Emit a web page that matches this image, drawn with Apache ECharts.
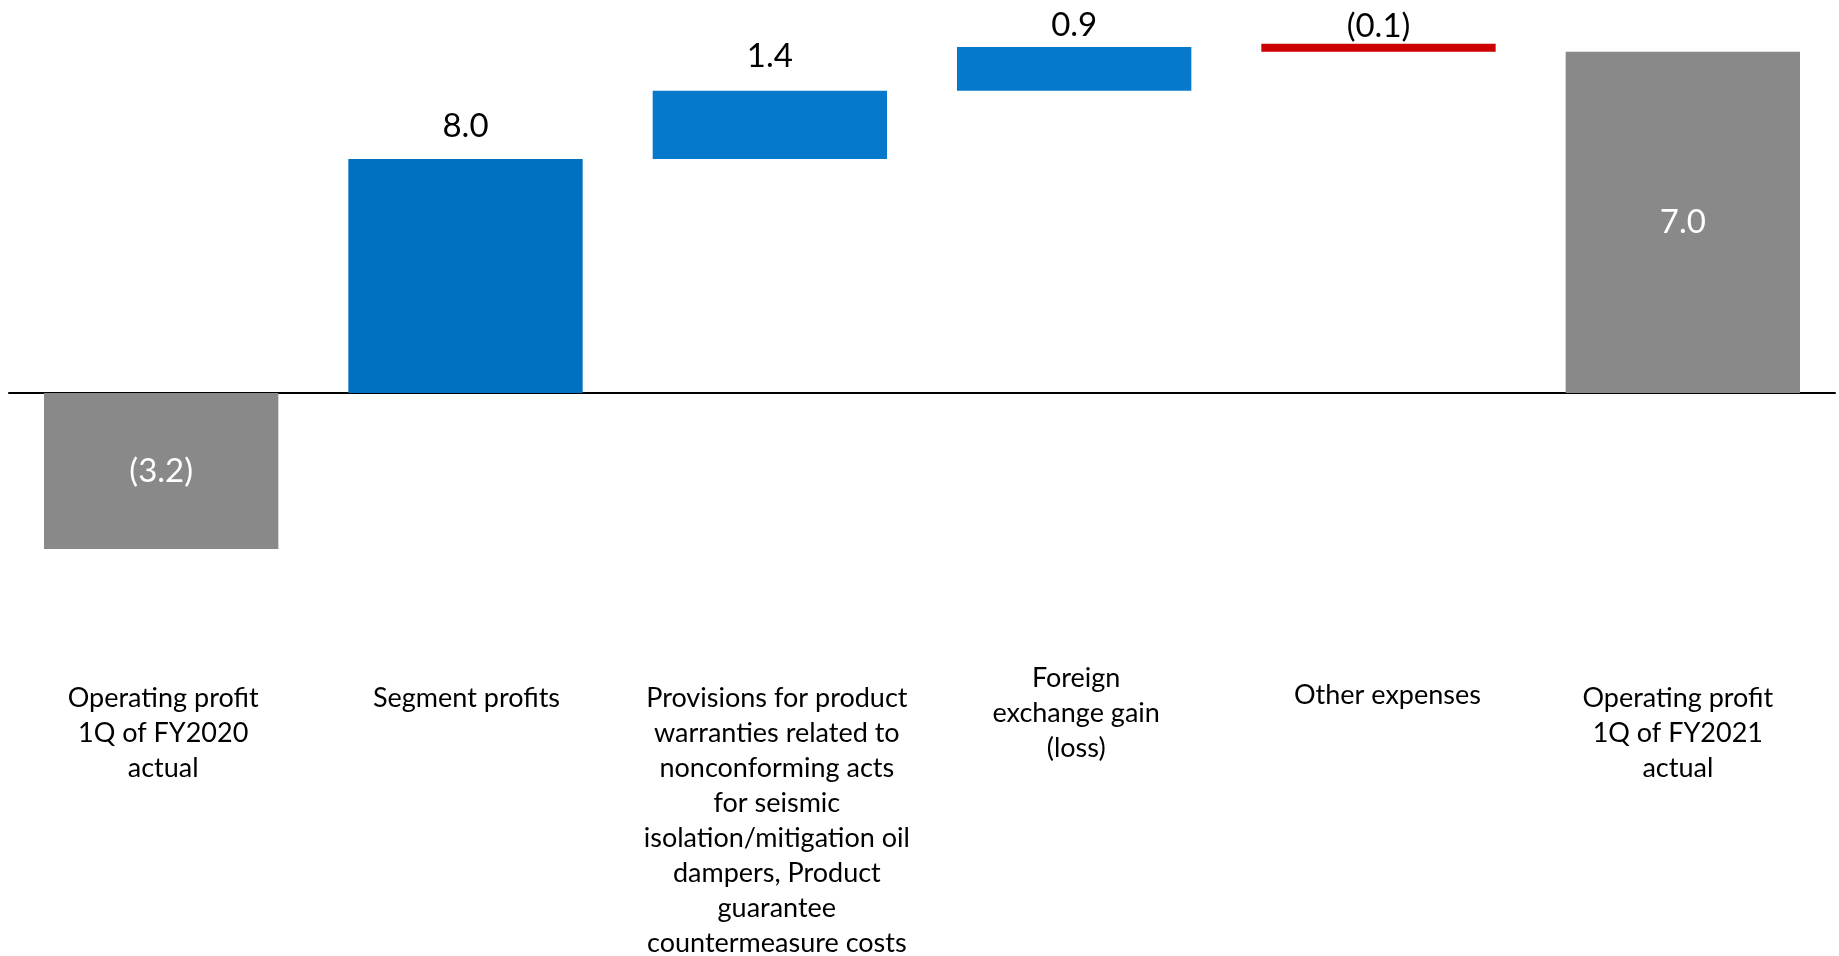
<!DOCTYPE html>
<html>
<head>
<meta charset="utf-8">
<script src="https://cdn.jsdelivr.net/npm/echarts@6/dist/echarts.min.js"></script>
<style>
html,body{margin:0;padding:0;background:#fff;}
#main{width:1839px;height:956px;}
</style>
</head>
<body>
<div id="main"></div>
<script>
// ---- data ----
var categories = [
  'Operating profit\n1Q of FY2020\nactual',
  'Segment profits',
  'Provisions for product\nwarranties related to\nnonconforming acts\nfor seismic\nisolation/mitigation oil\ndampers, Product\nguarantee\ncountermeasure costs',
  'Foreign\nexchange gain\n(loss)',
  'Other expenses',
  'Operating profit\n1Q of FY2021\nactual'
];
var values = [-3.2, 8.0, 1.4, 0.9, -0.1, 7.0];
var kinds = ['total', 'delta', 'delta', 'delta', 'delta', 'total'];
// label box padding [top, right, bottom, left]
var labelPad = [[20, 0, 0, 4], [20, 0, 0, 2], [20, 0, 0, 14], [0, 0, 0, 4], [17, 0, 0, 18], [20, 10, 0, 0]];

// ---- build waterfall segments from the values ----
var base = [], visible = [];
var running = 0;
for (var i = 0; i < values.length; i++) {
  var lo, hi;
  if (kinds[i] === 'total') {
    running = values[i];
    base.push(0);
    visible.push(values[i]);
    continue;
  }
  var prev = running;
  running = Math.round((running + values[i]) * 100) / 100;
  lo = Math.min(prev, running);
  hi = Math.max(prev, running);
  if (lo < 0 && hi > 0) lo = 0; // part below zero is hidden, as in the source
  base.push(lo);
  visible.push(Math.round((hi - lo) * 100) / 100);
}

function fmt(v) {
  return v < 0 ? '(' + Math.abs(v).toFixed(1) + ')' : v.toFixed(1);
}

var colors = ['#898989', '#0070C0', '#0779CC', '#0779CC', '#CC0000', '#898989'];
var labelDist = [0, 16, 18, 5, 1, 0];

var chart = echarts.init(document.getElementById('main'), null, {renderer: 'canvas'});
var visData = visible.map(function (v, i) {
  var isTotal = kinds[i] === 'total';
  return {
    value: v,
    itemStyle: {color: colors[i]},
    label: isTotal ? {
      position: 'inside', color: '#ffffff'
    } : {
      position: 'top', color: '#000000', distance: labelDist[i]
    }
  };
});

chart.setOption({
  animation: false,
  grid: {left: 9, right: 4, top: 3, bottom: 368, containLabel: false, outerBoundsMode: 'none'},
  xAxis: {
    type: 'category',
    data: categories.map(function (c, i) {
      return {value: c, textStyle: {padding: labelPad[i]}};
    }),
    axisLine: {onZero: true, lineStyle: {color: '#000000', width: 2}},
    axisTick: {show: false},
    axisLabel: {
      interval: 0, margin: 73, color: '#000000',
      fontFamily: 'Lato', fontSize: 27, lineHeight: 35, align: 'center'
    }
  },
  yAxis: {
    type: 'value', min: -4, max: 8, interval: 1,
    show: false, splitLine: {show: false}
  },
  series: [
    {
      type: 'bar', stack: 'w', data: base, barWidth: '77%',
      itemStyle: {color: 'transparent'}, silent: true
    },
    {
      type: 'bar', stack: 'w', data: visData, barWidth: '77%',
      barMinHeight: 8,
      label: {
        show: true, fontFamily: 'Lato', fontSize: 33, lineHeight: 33,
        formatter: function (p) { return fmt(values[p.dataIndex]); }
      }
    }
  ]
});
</script>
</body>
</html>
